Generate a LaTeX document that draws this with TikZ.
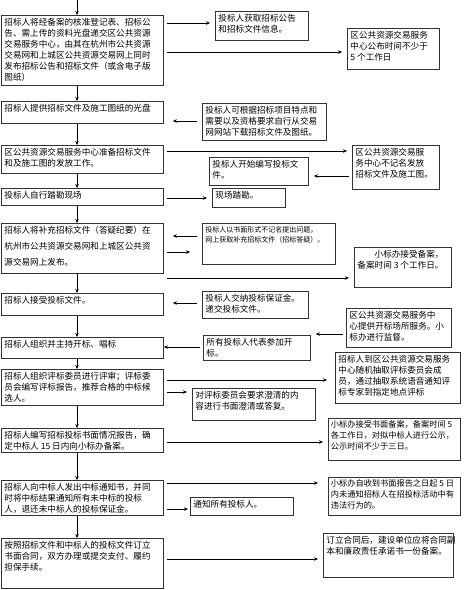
\documentclass[tikz,border=0pt]{standalone}
\usepackage{fontspec}
\newfontfamily\cjk{Noto Sans CJK SC}
\usetikzlibrary{arrows.meta}
% top aligned text of a fixed box: width, height, text
\newcommand{\btext}[3]{\parbox[c][#2pt][t]{#1pt}{\raggedright #3}}

\begin{document}
\begin{tikzpicture}[x=1pt,y=-1pt,
    box/.style={draw=black!80, line width=0.9pt, anchor=north west, inner sep=3pt,
        font=\cjk\fontsize{8.6}{11}\selectfont},
    narrow/.style={box, inner sep=2.5pt, font=\cjk\fontsize{8.2}{11}\selectfont},
    arr/.style={-{Stealth[length=4pt,width=3.5pt]}, line width=0.6pt, shorten <=3pt, shorten >=5pt},
    back/.style={arr, shorten <=5pt, shorten >=9pt},
    down/.style={-{Stealth[length=4pt,width=3.5pt]}, line width=0.6pt}]

    \useasboundingbox (0,0) rectangle (474,590);

    % Main steps on the left
    \node[box] (L1) at (1,15) {\btext{156}{64}{招标人将经备案的核准登记表、招标公\\告、需上传的资料光盘递交区公共资源\\交易服务中心，由其在杭州市公共资源\\交易网和上城区公共资源交易网上同时\\发布招标公告和招标文件（或含电子版\\图纸）}};
    \node[box] (L2) at (1,101) {\btext{156}{16}{招标人提供招标文件及施工图纸的光盘}};
    \node[box] (L3) at (1,145) {\btext{156}{22}{区公共资源交易服务中心准备招标文件\\和及施工图的发放工作。}};
    \node[box] (L4) at (1,188) {\btext{156}{11}{投标人自行踏勘现场}};
    \node[box, font=\cjk\fontsize{8.6}{16}\selectfont] (L5) at (1,223) {\btext{156}{44}{招标人将补充招标文件（答疑纪要）在\\杭州市公共资源交易网和上城区公共资\\源交易网上发布。}};
    \node[box] (L6) at (1,293) {\btext{156}{16}{招标人接受投标文件。}};
    \node[box] (L7) at (1,337) {\btext{156}{15}{招标人组织并主持开标、唱标}};
    \node[box] (L8) at (1,369) {\btext{156}{30}{招标人组织评标委员进行评审；评标委\\员会编写评标报告，推荐合格的中标候\\选人。}};
    \node[box] (L9) at (1,428) {\btext{156}{18}{招标人编写招标投标书面情况报告，确\\定中标人 15 日内向小标办备案。}};
    \node[box] (L10) at (1,480) {\btext{156}{29}{招标人向中标人发出中标通知书，并同\\时将中标结果通知所有未中标的投标\\人，退还未中标人的投标保证金。}};
    \node[box] (L11) at (1,538) {\btext{156}{44}{按照招标文件和中标人的投标文件订立\\书面合同，双方办理或提交支付、履约\\担保手续。}};

    % Notes on the right
    \node[box] (R1) at (215,11) {\btext{87}{23}{投标人获取招标公告\\和招标文件信息。}};
    \node[box] (R2) at (347,28) {\btext{86}{35}{区公共资源交易服务\\中心公布时间不少于\\5 个工作日}};
    \node[box] (R3) at (202,103) {\btext{118}{31}{投标人可根据招标项目特点和\\需要以及资格要求自行从交易\\网网站下载招标文件及图纸。}};
    \node[box] (R4) at (352,145) {\btext{81}{38}{区公共资源交易服\\务中心不记名发放\\招标文件及施工图。}};
    \node[box] (R5) at (209,157) {\btext{93}{22}{投标人开始编写投标文\\件。}};
    \node[box] (R6) at (212,188) {\btext{67}{13}{现场踏勘。}};
    \node[box, font=\cjk\fontsize{7}{10}\selectfont] (R7) at (202,223) {\btext{127}{35}{投标人以书面形式不记名提出问题，\\网上获取补充招标文件（招标答疑）。}};
    \node[box] (R8) at (354,247) {\btext{91}{34}{\hspace*{2em}小标办接受备案，\\备案时间 3 个工作日。}};
    \node[box] (R9) at (202,291) {\btext{100}{21}{投标人交纳投标保证金。\\递交投标文件。}};
    \node[box] (R10) at (346,308) {\btext{99}{33}{区公共资源交易服务中\\心提供开标场所服务。小\\标办进行监督。}};
    \node[box] (R11) at (203,335) {\btext{101}{19}{所有投标人代表参加开\\标。}};
    \node[box] (R12) at (335,352) {\btext{119}{45}{招标人到区公共资源交易服务\\中心随机抽取评标委员会成\\员，通过抽取系统语音通知评\\标专家到指定地点评标}};
    \node[box] (R13) at (192,388) {\btext{117}{26}{对评标委员会要求澄清的内\\容进行书面澄清或答复。}};
    \node[narrow] (R14) at (328,418) {\btext{127}{37}{小标办接受书面备案，备案时间 5\\各工作日，对拟中标人进行公示，\\公示时间不少于三日。}};
    \node[narrow] (R15) at (328,477) {\btext{127}{33}{小标办自收到书面报告之日起 5 日\\内未通知招标人在招投标活动中有\\违法行为的。}};
    \node[box] (R16) at (190,497) {\btext{97}{12}{通知所有投标人。}};
    \node[box] (R17) at (323,533) {\btext{124}{38}{订立合同后，建设单位应将合同副\\本和廉政责任承诺书一份备案。}};

    % Down the main column
    \coordinate (axis) at (77,0);
    \draw[down] (axis) -- (L1.north -| axis);
    \foreach \a/\b in {L1/L2,L2/L3,L3/L4,L4/L5,L5/L6,L6/L7,L7/L8,L8/L9,L9/L10,L10/L11} {
        \draw[down] (\a.south -| axis) -- (\b.north -| axis);
    }

    % Side arrows
    \draw[arr] (L1.east |- 0,23) -- (R1.west |- 0,23);
    \draw[arr] (L1.east |- 0,52) -- (R2.west |- 0,52);
    \draw[back] (R3.west |- 0,121) -- (L2.east |- 0,121);
    \draw[arr] (L3.east |- 0,151) -- (R4.west |- 0,151);
    \draw[arr] (R4.west |- 0,176) -- (R5.east |- 0,176);
    \draw[arr] (L4.east |- 0,198) -- (R6.west |- 0,198);
    \draw[back] (R7.west |- 0,236) -- (L5.east |- 0,236);
    \draw[arr, shorten >=12pt] (L5.east |- 0,252) -- (R7.west |- 0,252);
    \draw[arr] (L5.east |- 0,278) -- (R8.west |- 0,278);
    \draw[back] (R9.west |- 0,303) -- (L6.east |- 0,303);
    \draw[arr] (R10.west |- 0,334) -- (R11.east |- 0,334);
    \draw[arr, shorten >=0pt] (R11.west |- 0,347) -- (L7.east |- 0,347);
    \draw[arr, shorten >=8pt] (L8.east |- 0,380) -- (R12.west |- 0,380);
    \draw[arr] (L8.east |- 0,392) -- (R13.west |- 0,392);
    \draw[arr] (L9.east |- 0,442) -- (R14.west |- 0,442);
    \draw[arr, shorten >=10pt] (L10.east |- 0,483) -- (R15.west |- 0,483);
    \draw[arr, shorten >=2pt] (L10.east |- 0,509) -- (R16.west |- 0,509);
    \draw[arr] (L11.east |- 0,559) -- (R17.west |- 0,559);
\end{tikzpicture}
\end{document}
